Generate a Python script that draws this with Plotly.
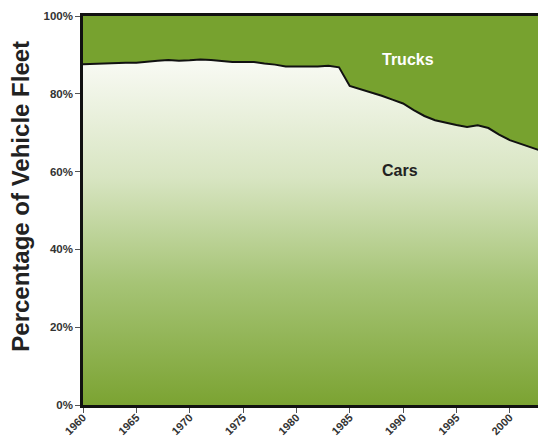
import plotly.graph_objects as go

years = list(range(1960, 2004))
cars = [87.6, 87.7, 87.8, 88.0, 88.0, 88.0, 88.3, 88.5, 88.7, 88.5,
        88.6, 88.8, 88.7, 88.5, 88.2, 88.2, 88.2, 87.8, 87.5, 87.0,
        87.0, 87.0, 87.0, 87.2, 86.8, 82.0, 81.2, 80.3, 79.5, 78.5,
        77.5, 75.8, 74.3, 73.2, 72.5, 72.0, 71.5, 71.9, 71.2, 69.5,
        68.1, 67.2, 66.3, 65.3]
trucks = [round(100 - c, 1) for c in cars]
top = [c + t for c, t in zip(cars, trucks)]

tick_years = [1960, 1965, 1970, 1975, 1980, 1985, 1990, 1995, 2000]
y_ticks = [0, 20, 40, 60, 80, 100]
y_labels = ["0%", "20%", "40%", "60%", "80%", "100%"]

green = "#77a22f"

fig = go.Figure()
fig.add_trace(go.Scatter(
    x=years, y=cars, mode="lines", fill="tozeroy",
    line=dict(color="#111111", width=2),
    fillgradient=dict(type="vertical", start=0, stop=90,
                      colorscale=[[0, "#7ba332"], [0.35, "#a6c476"],
                                  [0.65, "#d8e5c2"], [1, "#fafbf6"]]),
    hoverinfo="skip", showlegend=False))
fig.add_trace(go.Scatter(
    x=years, y=top, mode="lines", fill="tonexty",
    line=dict(color=green, width=0), fillcolor=green,
    hoverinfo="skip", showlegend=False))

font_family = "Liberation Sans, Arial, sans-serif"

fig.add_annotation(x=1990.5, y=88.9, text="Trucks", showarrow=False,
                   font=dict(family=font_family, size=16, color="white", weight="bold"))
fig.add_annotation(x=1989.7, y=60.4, text="Cars", showarrow=False,
                   font=dict(family=font_family, size=16, color="#222222", weight="bold"))
fig.add_annotation(xref="paper", yref="paper", x=-0.138, y=0.536,
                   text="Percentage of Vehicle Fleet", textangle=-90,
                   showarrow=False, xanchor="center", yanchor="middle",
                   font=dict(family=font_family, size=24, color="#222222", weight="bold"))

fig.update_layout(
    width=538, height=437,
    margin=dict(l=83, r=0, t=16, b=32, autoexpand=False),
    paper_bgcolor="white", plot_bgcolor=green,
    font=dict(family=font_family),
    xaxis=dict(range=[1960, 2002.65], tickvals=tick_years,
               ticktext=[str(y) for y in tick_years], tickangle=-45,
               automargin=False, ticklabelstandoff=-6,
               showgrid=False, zeroline=False, showline=True, mirror=True,
               linecolor="#111111", linewidth=2.5,
               ticks="outside", ticklen=5, tickcolor="#555555", tickwidth=1,
               tickfont=dict(size=11, color="#333333", weight="bold")),
    yaxis=dict(range=[0, 100], tickvals=y_ticks, ticktext=y_labels,
               automargin=False,
               showgrid=False, zeroline=False, showline=True,
               linecolor="#111111", linewidth=2.5,
               ticks="outside", ticklen=5, tickcolor="#555555", tickwidth=1,
               tickfont=dict(size=11.5, color="#333333", weight="bold")),
)

fig.write_html("out.html", config={"displayModeBar": False})

with open("out.html", "r", encoding="utf-8") as f:
    html = f.read()
html = html.replace("<head>", "<head><style>html,body{margin:0;padding:0;overflow:hidden;}</style>", 1)
with open("out.html", "w", encoding="utf-8") as f:
    f.write(html)
